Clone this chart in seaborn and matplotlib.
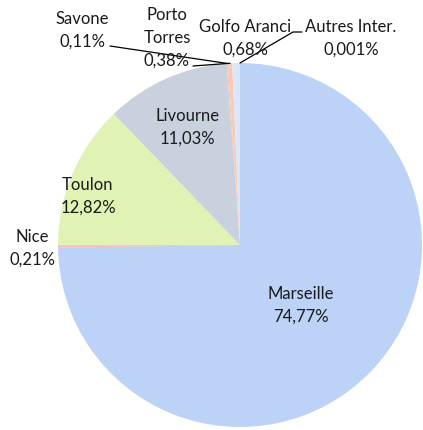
import numpy as np
import matplotlib
matplotlib.use("Agg")
import matplotlib.pyplot as plt
import seaborn as sns

# data ---------------------------------------------------------------
ports = ["Marseille", "Nice", "Toulon", "Livourne", "Savone", "Porto\nTorres", "Golfo Aranci", "Autres Inter."]
shares = [74.77, 0.21, 12.82, 11.03, 0.11, 0.38, 0.68, 0.001]
share_labels = ["74,77%", "0,21%", "12,82%", "11,03%", "0,11%", "0,38%", "0,68%", "0,001%"]
colors = ["#bcd2f7", "#f3b9c4", "#e0f3b4", "#c9d1df", "#f6c2b0", "#f7c9b8", "#dbe6f8", "#c9daf6"]

sns.set_theme(style="white")
plt.rcParams['font.family'] = ['Lato', 'DejaVu Sans']

fig = plt.figure(figsize=(4.23, 4.30), dpi=100)
# pie centre ~ (240, 245) px, radius ~ 182 px
R = 182
cx, cy = 240, 245
ax = fig.add_axes([(cx - R) / 423, (430 - cy - R) / 430, 2 * R / 423, 2 * R / 430])

wedges, _ = ax.pie(shares, colors=sns.color_palette(colors), startangle=90, counterclock=False,
                   radius=1, wedgeprops=dict(linewidth=0))
ax.set_xlim(-1, 1)
ax.set_ylim(-1, 1)
ax.set_aspect("auto")
ax.axis("off")

fs = 12
ls = 1.5


def mid(w, r=1.0):
    a = np.deg2rad((w.theta1 + w.theta2) / 2)
    return r * np.cos(a), r * np.sin(a)


def px(x, y):
    # pixel coords of the figure -> data coords of the pie
    return (x - cx) / R, (cy - y) / R


def label(i, pos):
    ax.text(*pos, ports[i] + "\n" + share_labels[i], ha="center", va="center",
            fontsize=fs, linespacing=ls, color="#1a1a1a")


# inside labels
label(0, mid(wedges[0], 0.47))
label(2, px(88, 196))
label(3, mid(wedges[3], 0.71))

# outside labels
label(1, px(32, 248))
label(4, px(82, 30))
label(5, px(167, 38))
label(6, px(245, 38))
label(7, px(351, 38))

# leader lines
for i, start in [(4, (110, 46)), (5, (193, 66))]:
    ex, ey = mid(wedges[i], 1.0)
    sx, sy = px(*start)
    ax.plot([sx, ex], [sy, ey], color="black", lw=0.9, clip_on=False)
ex, ey = mid(wedges[7], 1.0)
p1 = px(293, 32)
p2 = px(302, 32)
ax.plot([ex, p1[0], p2[0]], [ey, p1[1], p2[1]], color="black", lw=0.9, clip_on=False)

plt.savefig("out.png", dpi=100)
